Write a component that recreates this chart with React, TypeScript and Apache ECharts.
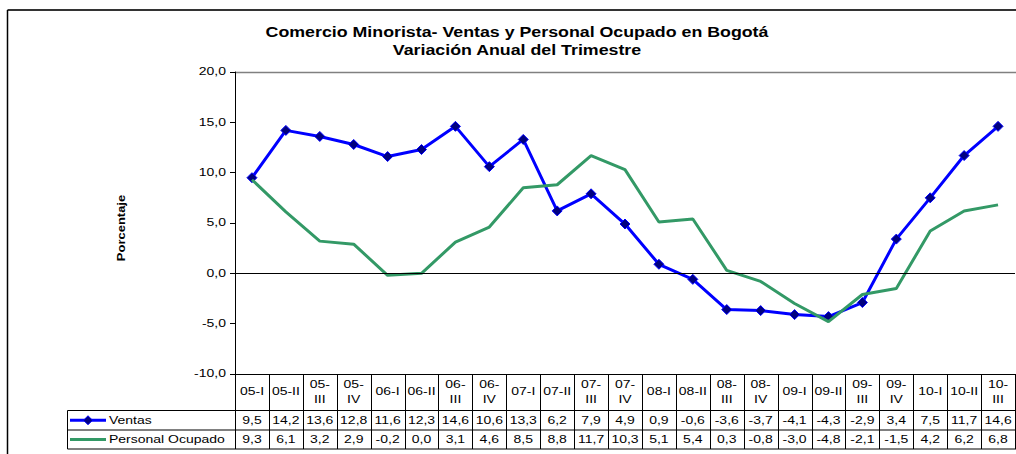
import React, { useEffect, useRef } from "react";
import * as echarts from "echarts";

const titleLines = ["Comercio Minorista- Ventas y Personal Ocupado en Bogotá", "Variación Anual del Trimestre"];
const yAxisName = "Porcentaje";
const categories = [
  "05-I", "05-II", "05-III", "05-IV",
  "06-I", "06-II", "06-III", "06-IV",
  "07-I", "07-II", "07-III", "07-IV",
  "08-I", "08-II", "08-III", "08-IV",
  "09-I", "09-II", "09-III", "09-IV",
  "10-I", "10-II", "10-III",
];
const ventas = [9.5, 14.2, 13.6, 12.8, 11.6, 12.3, 14.6, 10.6, 13.3, 6.2, 7.9, 4.9, 0.9, -0.6, -3.6, -3.7, -4.1, -4.3, -2.9, 3.4, 7.5, 11.7, 14.6];
const personal = [9.3, 6.1, 3.2, 2.9, -0.2, 0.0, 3.1, 4.6, 8.5, 8.8, 11.7, 10.3, 5.1, 5.4, 0.3, -0.8, -3.0, -4.8, -2.1, -1.5, 4.2, 6.2, 6.8];
const seriesNames = ["Ventas", "Personal Ocupado"];
const yTicks = [-10, -5, 0, 5, 10, 15, 20];

const BLUE = "#0000FF";
const NAVY = "#000080";
const GREEN = "#339966";
const FONT = '"Liberation Sans", Arial, sans-serif';

const fmt = (v: number) => v.toFixed(1).replace(".", ",");
const wrapCat = (c: string) => {
  const [yr, q] = c.split("-");
  return q === "III" || q === "IV" ? `${yr}-\n${q}` : c;
};

export default function App() {
  const ref = useRef<HTMLDivElement>(null);
  useEffect(() => {
    document.body.style.margin = "0";
    const chart = echarts.init(ref.current!, null, { renderer: "svg" });
    chart.setOption({
      animation: false,
      textStyle: { fontFamily: FONT },
      grid: { left: 235, top: 72, right: 1, bottom: 80, containLabel: false },
      xAxis: {
        type: "category",
        data: categories,
        boundaryGap: true,
        axisLine: { show: true, onZero: false, lineStyle: { color: "#000", width: 1 } },
        axisTick: { show: false },
        axisLabel: { show: false },
        splitLine: { show: false },
      },
      yAxis: {
        type: "value",
        min: -10,
        max: 20,
        interval: 5,
        axisLine: { show: true, lineStyle: { color: "#000", width: 1 } },
        axisTick: { show: true, inside: false, length: 5, lineStyle: { color: "#000" } },
        axisLabel: { show: false },
        splitLine: { show: false },
      },
      series: [
        {
          name: seriesNames[0],
          type: "line",
          data: ventas,
          symbol: "diamond",
          symbolSize: 10,
          showSymbol: true,
          lineStyle: { color: BLUE, width: 3 },
          itemStyle: { color: NAVY, borderColor: BLUE, borderWidth: 1 },
          z: 3,
          markLine: {
            silent: true,
            symbol: "none",
            label: { show: false },
            lineStyle: { color: "#000", width: 1, type: "solid" },
            data: [{ yAxis: 0 }],
          },
        },
        {
          name: seriesNames[1],
          type: "line",
          data: personal,
          symbol: "none",
          showSymbol: false,
          lineStyle: { color: GREEN, width: 3 },
          itemStyle: { color: GREEN },
          z: 4,
        },
      ],
    });

    const px = (i: number) => chart.convertToPixel({ xAxisIndex: 0 }, i) as number;
    const py = (v: number) => chart.convertToPixel({ yAxisIndex: 0 }, v) as number;
    const xs = categories.map((_, i) => px(i));
    const colW = xs[1] - xs[0];
    const leftX = xs[0] - colW / 2;
    const rightX = 1016;
    const yTop = py(20);
    const yBot = py(-10);
    const hdrBot = yBot + 36.5;
    const row1Bot = yBot + 56;
    const row2Bot = yBot + 75;
    const legLeft = 67.5;

    const els: any[] = [];
    const line = (x1: number, y1: number, x2: number, y2: number, stroke = "#000", lw = 1) =>
      els.push({ type: "line", silent: true, shape: { x1, y1, x2, y2 }, style: { stroke, lineWidth: lw } });
    const txt = (text: string, x: number, y: number, o: any = {}) =>
      els.push({
        type: "text",
        silent: true,
        x,
        y,
        rotation: o.rotation || 0,
        scaleX: o.scaleX ?? 1.4,
        style: {
          text,
          font: `${o.weight || "normal"} ${o.size || 10}px ${FONT}`,
          fill: "#000",
          align: o.align || "center",
          textAlign: o.align || "center",
          verticalAlign: "middle",
          textVerticalAlign: "middle",
          lineHeight: o.lineHeight || 12,
        },
      });

    // outer frame
    line(7.5, 10, 1016, 10, "#333", 2);
    line(7.5, 10, 7.5, 454, "#000", 1.5);
    // plot area top border
    line(leftX, yTop + 0.5, rightX, yTop + 0.5, "#808080", 1.5);

    // title
    txt(titleLines[0], 517, 32, { weight: "bold", size: 14, scaleX: 1.27 });
    txt(titleLines[1], 517, 50, { weight: "bold", size: 14, scaleX: 1.27 });

    // y axis name
    txt(yAxisName, 122, 228, { weight: "bold", size: 10, scaleX: 1.3, rotation: Math.PI / 2 });

    // y tick labels
    yTicks.forEach((v) => txt(fmt(v), 226, py(v), { align: "right" }));

    // data table grid
    for (let i = 0; i <= categories.length; i++) {
      const x = Math.round(leftX + i * colW) + 0.5;
      line(x, yBot, x, row2Bot);
    }
    line(legLeft, hdrBot, rightX, hdrBot);
    line(legLeft, row1Bot, rightX, row1Bot);
    line(legLeft, row2Bot, rightX, row2Bot);
    line(legLeft, hdrBot, legLeft, row2Bot);

    // header labels
    categories.forEach((c, i) => txt(wrapCat(c), xs[i], yBot + 18, { lineHeight: 15 }));

    // legend keys
    const r1 = (hdrBot + row1Bot) / 2;
    const r2 = (row1Bot + row2Bot) / 2;
    line(70, r1, 106, r1, BLUE, 3);
    els.push({
      type: "polygon",
      silent: true,
      shape: { points: [[88, r1 - 4.5], [92.5, r1], [88, r1 + 4.5], [83.5, r1]] },
      style: { fill: NAVY, stroke: BLUE, lineWidth: 1 },
    });
    line(70, r2, 106, r2, GREEN, 3);
    txt(seriesNames[0], 109, r1, { align: "left" });
    txt(seriesNames[1], 109, r2, { align: "left" });

    // values
    ventas.forEach((v, i) => txt(fmt(v), xs[i], r1));
    personal.forEach((v, i) => txt(fmt(v), xs[i], r2));

    chart.setOption({ graphic: { elements: els } });

    return () => chart.dispose();
  }, []);
  return <div ref={ref} style={{ width: 1016, height: 454 }} />;
}
